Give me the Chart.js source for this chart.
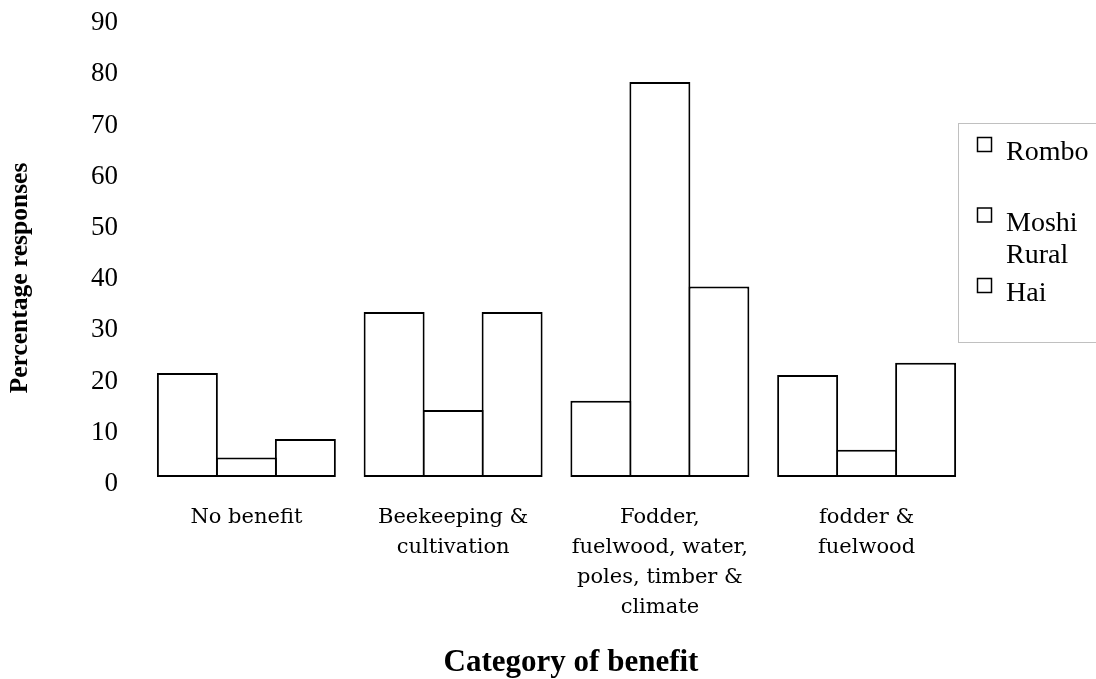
<!DOCTYPE html>
<html>
<head>
<meta charset="utf-8">
<script src="https://cdn.jsdelivr.net/npm/chart.js@4/dist/chart.umd.min.js"></script>
<style>
  html, body { margin: 0; padding: 0; background: #ffffff; }
  #wrap { position: relative; width: 1096px; height: 679px; }
  canvas { display: block; }
</style>
</head>
<body>
<div id="wrap"><canvas id="chart" width="1096" height="679"></canvas></div>
<script>
// Benefit categories (multi-line labels)
const categories = [
  ['No benefit'],
  ['Beekeeping &', 'cultivation'],
  ['Fodder,', 'fuelwood, water,', 'poles, timber &', 'climate'],
  ['fodder &', 'fuelwood']
];

// District names
const seriesNames = ['Rombo', 'Moshi Rural', 'Hai'];

// Percentage of responses per district
const romboValues = [20.3, 32.2, 14.9, 19.9];
const moshiRuralValues = [3.8, 13.1, 77.1, 5.3];
const haiValues = [7.4, 32.2, 37.2, 22.3];

// Y axis ticks
const yTicks = [0, 10, 20, 30, 40, 50, 60, 70, 80, 90];

// Axis titles
const xTitle = 'Category of benefit';
const yTitle = 'Percentage responses';

const seriesValues = [romboValues, moshiRuralValues, haiValues];

// Axis titles drawn in the page margins
const axisTitles = {
  id: 'axisTitles',
  afterDraw(chart) {
    const ctx = chart.ctx;
    ctx.save();
    ctx.fillStyle = '#000000';
    ctx.textAlign = 'center';
    ctx.textBaseline = 'middle';
    ctx.font = 'bold 31px "Liberation Serif", "Times New Roman", serif';
    ctx.fillText(xTitle, 571, 663);
    ctx.translate(20, 278);
    ctx.rotate(-Math.PI / 2);
    ctx.font = 'bold 25.5px "Liberation Serif", "Times New Roman", serif';
    ctx.fillText(yTitle, 0, 0);
    ctx.restore();
  }
};

// Boxed legend drawn on the right side of the canvas
const boxedLegend = {
  id: 'boxedLegend',
  afterDraw(chart) {
    const ctx = chart.ctx;
    ctx.save();
    ctx.strokeStyle = '#c0c0c0';
    ctx.lineWidth = 1;
    ctx.strokeRect(958.5, 123.5, 150, 219);
    ctx.font = '28px "Liberation Serif", "Times New Roman", serif';
    ctx.textBaseline = 'alphabetic';
    ctx.textAlign = 'left';
    chart.data.datasets.forEach((ds, i) => {
      const top = 137 + i * 70.5;
      ctx.strokeStyle = '#000000';
      ctx.lineWidth = 1.5;
      ctx.fillStyle = ds.backgroundColor;
      ctx.fillRect(977, top, 15, 15);
      ctx.strokeRect(977.5, top + 0.5, 14, 14);
      ctx.fillStyle = '#000000';
      // wrap words to the legend width
      const words = ds.label.split(' ');
      const lines = [];
      let cur = '';
      words.forEach(w => {
        const t = cur ? cur + ' ' + w : w;
        if (cur && ctx.measureText(t).width > 88) { lines.push(cur); cur = w; }
        else cur = t;
      });
      if (cur) lines.push(cur);
      lines.forEach((ln, k) => ctx.fillText(ln, 1006, top + 23 + k * 32));
    });
    ctx.restore();
  }
};

new Chart(document.getElementById('chart'), {
  type: 'bar',
  data: {
    labels: categories,
    datasets: seriesNames.map((name, i) => ({
      label: name,
      data: seriesValues[i],
      backgroundColor: '#ffffff',
      borderColor: '#000000',
      borderWidth: 2,
      borderSkipped: false,
      categoryPercentage: 0.856,
      barPercentage: 1.0335
    }))
  },
  options: {
    responsive: false,
    animation: false,
    events: [],
    layout: { padding: { left: 66, right: 126, top: 16, bottom: 30 } },
    plugins: {
      legend: { display: false },
      tooltip: { enabled: false }
    },
    scales: {
      x: {
        grid: { display: false, drawTicks: false },
        border: { display: false },
        ticks: {
          color: '#000000',
          padding: 26,
          maxRotation: 0,
          autoSkip: false,
          font: { family: '"DejaVu Serif", serif', size: 21, lineHeight: 1.4286 }
        }
      },
      y: {
        min: 0,
        max: 90,
        afterBuildTicks(axis) { axis.ticks = yTicks.map(v => ({ value: v })); },
        afterFit(axis) { axis.paddingTop = 0; axis.paddingBottom = 0; },
        grid: { display: false, drawTicks: false },
        border: { display: false },
        ticks: {
          color: '#000000',
          padding: 25,
          labelOffset: 7,
          font: { family: '"Liberation Serif", "Times New Roman", serif', size: 27 }
        }
      }
    }
  },
  plugins: [boxedLegend, axisTitles]
});
</script>
</body>
</html>
